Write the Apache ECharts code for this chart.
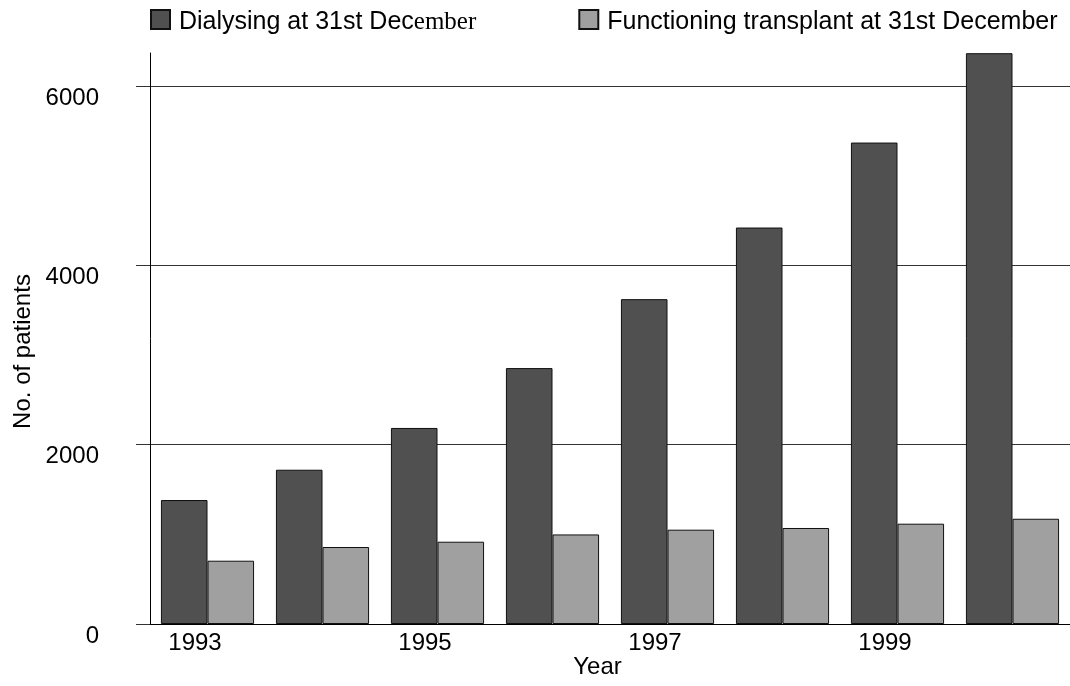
<!DOCTYPE html>
<html>
<head>
<meta charset="utf-8">
<script src="https://cdn.jsdelivr.net/npm/echarts@6/dist/echarts.min.js"></script>
<style>
html,body{margin:0;padding:0;background:#fff;}
#chart{width:1070px;height:686px;}
</style>
</head>
<body>
<div id="chart"></div>
<script>
/* dialysis vs transplant patients, 1993-2000 */
var years = ['1993','1994','1995','1996','1997','1998','1999','2000'];
var dialysing = [1383, 1721, 2187, 2855, 3624, 4423, 5371, 6368];
var transplant = [706, 859, 918, 999, 1052, 1071, 1119, 1174];
var yTicks = [0, 2000, 4000, 6000];

(function(){
	var myChart = echarts.init(document.getElementById('chart'));
	var font = 'Liberation Sans, Arial, sans-serif';
	var option = {
		animation: false,
		textStyle: { fontFamily: font },
		legend: {
			left: 150,
			top: 9,
			padding: 0,
			itemWidth: 19,
			itemHeight: 19,
			itemGap: 102,
			icon: 'rect',
			textStyle: {
				fontFamily: font,
				fontSize: 25,
				color: '#000',
				padding: [6, 0, 0, 4],
				rich: {
					s: { fontFamily: 'Liberation Serif, Times New Roman, serif', fontSize: 25, color: '#000' }
				}
			},
			formatter: function(name){
				if (name === 'Dialysing at 31st December') {
					return 'Dialysing at 31st Dec{s|ember}';
				}
				return name;
			}
		},
		grid: {
			left: 150,
			right: 0,
			top: 53,
			bottom: 62,
			outerBoundsMode: 'none'
		},
		xAxis: {
			type: 'category',
			data: years,
			name: 'Year',
			nameLocation: 'middle',
			nameGap: 31,
			nameMoveOverlap: false,
			nameTextStyle: { fontSize: 24, color: '#000', padding: [0, 25, 0, 0] },
			axisLine: { lineStyle: { color: '#000', width: 1 } },
			axisTick: { show: false },
			axisLabel: {
				interval: 1,
				fontSize: 24,
				color: '#000',
				margin: 7,
				padding: [0, 25, 0, 0]
			}
		},
		yAxis: {
			type: 'value',
			min: 0,
			max: 6370,
			interval: 2000,
			name: 'No. of patients',
			nameLocation: 'middle',
			nameGap: 115,
			nameMoveOverlap: false,
			nameTextStyle: { fontSize: 24, color: '#000', padding: [0, 26, 0, 0] },
			axisLine: { show: true, lineStyle: { color: '#000', width: 1 } },
			axisTick: {
				show: true,
				inside: false,
				length: 14,
				customValues: yTicks,
				lineStyle: { color: '#333' }
			},
			axisLabel: {
				fontSize: 24,
				color: '#000',
				margin: 51,
				customValues: yTicks,
				verticalAlign: 'top',
				formatter: function(v){ return String(v); }
			},
			splitLine: {
				show: true,
				lineStyle: { color: '#333', width: 1 }
			}
		},
		series: [
			{
				name: 'Dialysing at 31st December',
				type: 'bar',
				barGap: '0%',
				barCategoryGap: '19%',
				itemStyle: { color: '#505050', borderColor: '#111', borderWidth: 1 },
				data: dialysing
			},
			{
				name: 'Functioning transplant at 31st December',
				type: 'bar',
				barGap: '0%',
				barCategoryGap: '19%',
				itemStyle: { color: '#a0a0a0', borderColor: '#111', borderWidth: 1 },
				data: transplant
			}
		]
	};
	myChart.setOption(option);
})();
</script>
</body>
</html>
